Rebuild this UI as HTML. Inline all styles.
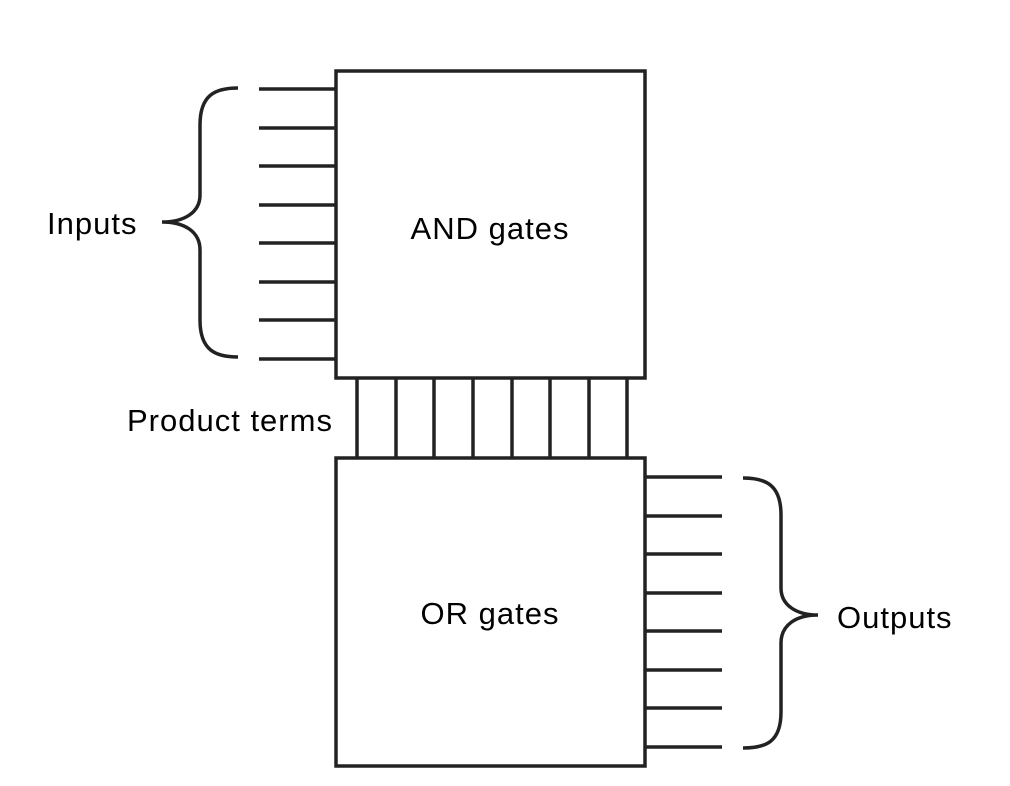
<!DOCTYPE html>
<html><head><style>body{margin:0;background:#fff}svg{display:block}text{font-family:"Liberation Sans",sans-serif;font-size:31px;letter-spacing:1px;fill:#000}</style></head><body>
<svg width="1010" height="786" viewBox="0 0 1010 786">
<g stroke="#222" stroke-width="3.5" fill="none">
<rect x="336" y="71" width="309" height="307" fill="#fff"/>
<rect x="336" y="458" width="309" height="308" fill="#fff"/>
<path d="M259 89H336M259 128H336M259 166H336M259 205H336M259 243H336M259 282H336M259 320H336M259 359H336"/>
<path d="M645 477H722M645 516H722M645 554H722M645 593H722M645 631H722M645 670H722M645 708H722M645 747H722"/>
<path d="M357 378V458M396 378V458M434 378V458M473 378V458M512 378V458M550 378V458M589 378V458M627 378V458"/>
<path d="M238 88C215 88 200 95 200 125V195C200 212 185 222 162 222C185 222 200 232 200 250V320C200 350 215 357 238 357"/>
<path d="M743 478C766 478 781 485 781 515V588C781 605 796 615 818 615C796 615 781 625 781 643V712C781 742 766 748 743 748"/>
</g>
<text x="47" y="234">Inputs</text>
<text x="490" y="239" text-anchor="middle">AND gates</text>
<text x="127" y="431">Product terms</text>
<text x="490" y="624" text-anchor="middle">OR gates</text>
<text x="837" y="628">Outputs</text>
</svg>
</body></html>
